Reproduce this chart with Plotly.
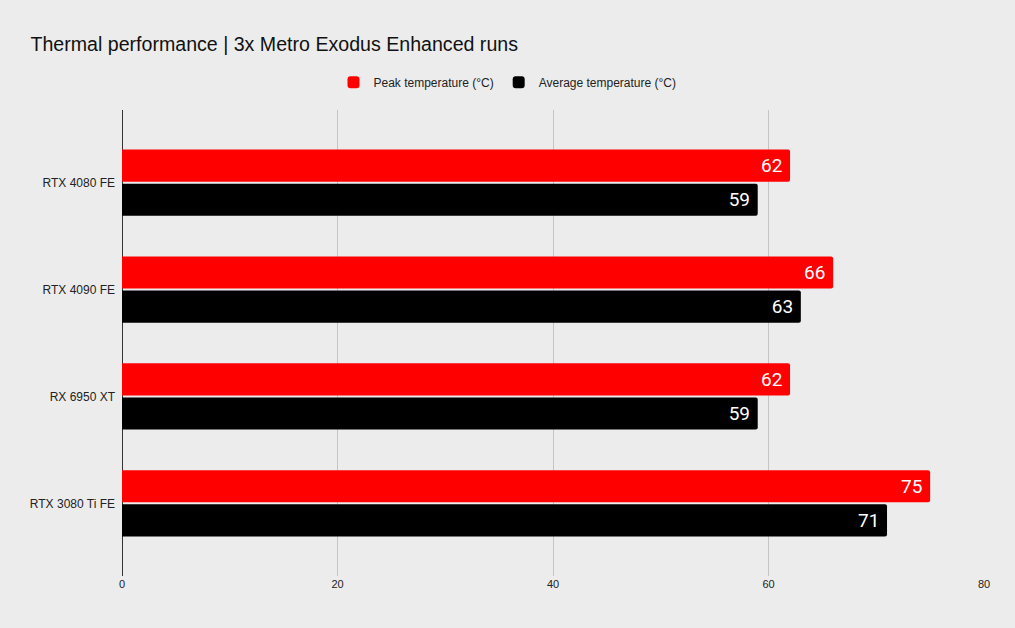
import plotly.graph_objects as go

categories = ["RTX 4080 FE", "RTX 4090 FE", "RX 6950 XT", "RTX 3080 Ti FE"]
peak_temp = [62, 66, 62, 75]
avg_temp = [59, 63, 59, 71]
x_ticks = [0, 20, 40, 60, 80]

ARIAL = "Liberation Sans, Arial, sans-serif"

fig = go.Figure()
fig.add_trace(go.Bar(
    y=categories, x=peak_temp, orientation="h", name="Peak temperature (°C)",
    marker=dict(color="#ff0000", line=dict(width=0)),
    text=peak_temp, texttemplate="%{x}\u00a0", textposition="inside", insidetextanchor="end",
    textfont=dict(color="white", size=19, family="Roboto"),
))
fig.add_trace(go.Bar(
    y=categories, x=avg_temp, orientation="h", name="Average temperature (°C)",
    marker=dict(color="#000000", line=dict(width=0)),
    text=avg_temp, texttemplate="%{x}\u00a0", textposition="inside", insidetextanchor="end",
    textfont=dict(color="white", size=19, family="Roboto"),
))

fig.update_layout(
    width=1015, height=628,
    paper_bgcolor="#ececec", plot_bgcolor="#ececec",
    margin=dict(l=122, r=31, t=110, b=52),
    barmode="group", bargap=0.36, bargroupgap=0.06, barcornerradius=2,
    title=dict(text="Thermal performance | 3x Metro Exodus Enhanced runs",
               x=0.03, xanchor="left", y=0.93, yanchor="middle",
               font=dict(family=ARIAL, size=19.6, color="#111111")),
    legend=dict(orientation="h", xref="container", x=0.5, xanchor="center",
                yref="container", y=0.869, yanchor="middle",
                font=dict(family=ARIAL, size=12, color="#222222"),
                itemwidth=30, bgcolor="rgba(0,0,0,0)"),
    font=dict(family=ARIAL, size=12, color="#222222"),
    uniformtext=dict(mode="show", minsize=19),
)
fig.update_xaxes(range=[0, 80], tickvals=x_ticks, showgrid=True, gridcolor="#c4c4c4",
                 zeroline=True, zerolinecolor="#333333", zerolinewidth=1,
                 tickfont=dict(family=ARIAL, size=11, color="#222222"), ticks="", showline=False)
fig.update_yaxes(range=[3.68, -0.68], showgrid=False, ticks="", showline=False,
                 tickfont=dict(family=ARIAL, size=12, color="#222222"), ticklabelstandoff=6)

fig.write_html("out.html")
